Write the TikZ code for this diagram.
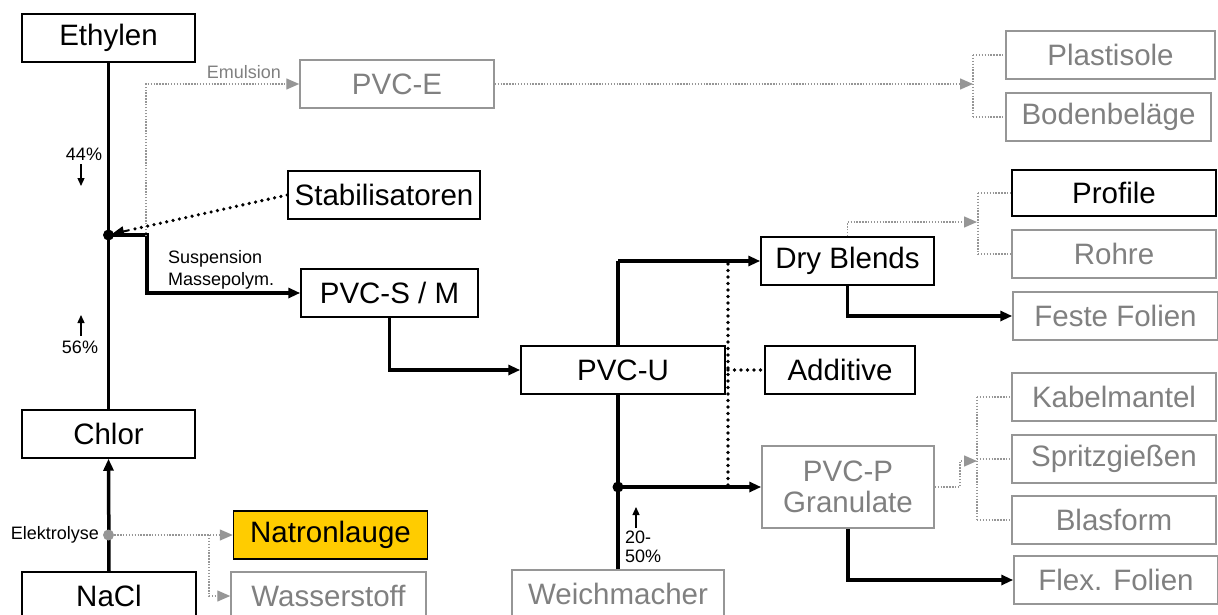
\documentclass[tikz,border=0pt]{standalone}
\usepackage{fontspec}
\setmainfont{Liberation Sans}
\usetikzlibrary{arrows.meta,calc}
\definecolor{gtext}{RGB}{128,128,128}
\definecolor{gline}{RGB}{150,150,150}
\definecolor{gold}{RGB}{255,204,0}
\tikzset{
  box/.style={draw=black, line width=1.5pt, inner sep=0pt, minimum height=48pt, text=black, font=\fontsize{29.5}{31}\selectfont, align=center},
  gbox/.style={box, draw=gline, text=gtext},
  thickline/.style={line width=3.5pt, draw=black},
  arr/.style={-{Triangle[length=12pt,width=10pt]}},
  garr/.style={-{Triangle[length=13pt,width=11pt]}},
  gdot/.style={draw=gline, line width=1.4pt, dash pattern=on 1.4pt off 1.5pt},
  bdot/.style={draw=black, line width=3.6pt, line cap=round, dash pattern=on 0pt off 6.5pt},
  small/.style={font=\fontsize{18}{18.5}\selectfont, inner sep=0pt},
}
\begin{document}
\begin{tikzpicture}[x=1pt,y=-1pt]
\useasboundingbox (0,0) rectangle (1218,615);
% nodes
\node[box, minimum width=173pt] (ethylen) at (108.5,38) {Ethylen};
\node[gbox, minimum width=194pt] (pvce) at (397,84) {PVC-E};
\node[gbox, minimum width=209pt] (plast) at (1110.5,55) {Plastisole};
\node[gbox, minimum width=205pt] (boden) at (1108.5,117) {Bodenbeläge};
\node[box, minimum width=192pt] (stab) at (384,195) {Stabilisatoren};
\node[box, minimum width=204pt, minimum height=46pt] (profile) at (1114,193) {Profile};
\node[gbox, minimum width=204pt] (rohre) at (1114,254) {Rohre};
\node[box, minimum width=173pt] (dry) at (847.5,261) {Dry Blends};
\node[gbox, minimum width=205pt] (feste) at (1115.5,316) {Feste Folien};
\node[box, minimum width=177pt] (pvcs) at (389.5,293) {PVC-S / M};
\node[box, minimum width=204pt] (pvcu) at (623,370) {PVC-U};
\node[box, minimum width=150pt] (additive) at (840,370) {Additive};
\node[gbox, minimum width=204pt] (kabel) at (1114,397) {Kabelmantel};
\node[gbox, minimum width=204pt] (spritz) at (1114,459) {Spritzgießen};
\node[gbox, minimum width=204pt] (blas) at (1114,520) {Blasform};
\node[gbox, minimum width=204pt] (flex) at (1116,580) {Flex. Folien};
\node[gbox, minimum width=172pt, minimum height=82pt] (pvcp) at (848,487) {PVC-P\\Granulate};
\node[gbox, minimum width=212pt] (weich) at (618,594) {Weichmacher};
\node[box, minimum width=173pt] (chlor) at (108.5,434) {Chlor};
\node[box, minimum width=174pt] (nacl) at (109,596) {NaCl};
\node[box, minimum width=194pt, fill=gold] (natron) at (330.5,535) {Natronlauge};
\node[gbox, minimum width=195pt] (wasser) at (328.5,596) {Wasserstoff};
% junctions
\coordinate (j1) at (108.5,235);
\coordinate (j2) at (618,487);
\coordinate (j3) at (108.5,535);
\coordinate (s1) at (147,235);
\coordinate (e1) at (146,236);
% left column
\draw[thickline] (ethylen.south) -- (chlor.north);
\draw[thickline, arr] (nacl.north) -- (chlor.south);
\draw[thickline, arr] (j1) -- (s1) |- (pvcs.west);
\draw[gdot, garr] (e1) |- (pvce.west);
\node[small, text=gtext] (emul) at (244,72) {Emulsion};
\coordinate (stabend) at (112,234);
\coordinate (stabmid) at ($(stab.west)!0.9!(stabend)$);
\draw[bdot] (stab.west) -- (stabmid);
\draw[line width=2pt, -{Triangle[length=12pt,width=10pt]}] (stabmid) -- (stabend);
\fill[black] (j1) circle (5.5pt);
% 44% and 56%
\node[small] (p44) at (84,154) {44\%};
\draw[line width=1.3pt, -{Triangle[length=8pt,width=7pt]}] (81,164) -- (81,186);
\node[small] (p56) at (80,347) {56\%};
\draw[line width=1.3pt, -{Triangle[length=8pt,width=7pt]}] (81,336) -- (81,315);
\node[small, font=\fontsize{18}{22}\selectfont, align=left, anchor=north west] (susp) at (168,250) {Suspension\\Massepolym.};
% Elektrolyse
\fill[gline] (j3) circle (5.5pt);
\node[small, anchor=east] (elek) at (99,535) {Elektrolyse};
\draw[gdot, garr] (j3) -- (natron.west);
\draw[gdot, garr] (209,535) |- (wasser.west);
% PVC-E branch
\coordinate (pe) at (973,84);
\draw[gdot, garr] (pvce.east) -- (pe);
\draw[gdot] (973,55) -- (973,117);
\draw[gdot] (973,55) -- (plast.west);
\draw[gdot] (973,117) -- (boden.west);
% PVC-S to PVC-U
\draw[thickline, arr] (pvcs.south) |- (pvcu.west);
% PVC-U branches
\coordinate (u1) at (618,261);
\draw[thickline] (pvcu.north -| u1) -- (u1);
\draw[thickline, arr] (u1) -- (dry.west);
\draw[thickline] (weich.north) -- (pvcu.south -| weich.north);
\draw[thickline, arr] (j2) -- (pvcp.west);
\fill[black] (j2) circle (5.5pt);
\draw[bdot] (728,264) -- (728,487);
\draw[bdot] (728,370) -- (additive.west);
\node[small, align=left, anchor=north west] (p2050) at (625,531) {20-\\50\%};
\draw[line width=1.3pt, -{Triangle[length=8pt,width=7pt]}] (636,528) -- (636,507);
% Dry Blends branches
\draw[thickline, arr] (dry.south) |- (feste.west);
\draw[gdot, garr] (dry.north) |- (977,222);
\draw[gdot] (978,193) -- (978,254);
\draw[gdot] (978,193) -- (profile.west);
\draw[gdot] (978,254) -- (rohre.west);
% PVC-P branches
\draw[thickline, arr] (pvcp.south) |- (flex.west);
\draw[gdot, garr] (pvcp.east) -- (960,487) |- (977,461);
\draw[gdot] (977,397) -- (977,520);
\draw[gdot] (977,397) -- (kabel.west);
\draw[gdot] (977,459) -- (spritz.west);
\draw[gdot] (977,520) -- (blas.west);
\end{tikzpicture}
\end{document}
